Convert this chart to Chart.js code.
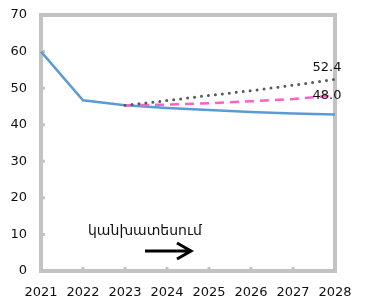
<!DOCTYPE html>
<html><head><meta charset="utf-8">
<script src="https://cdn.jsdelivr.net/npm/chart.js@4/dist/chart.umd.min.js"></script>
<style>html,body{margin:0;padding:0;background:#fff}#wrap{width:372px;height:304px}</style>
</head><body><div id="wrap"><canvas id="c" width="372" height="304"></canvas></div>
<script>
const years = ['2021','2022','2023','2024','2025','2026','2027','2028'];
const baseline = [60.0, 46.7, 45.3, 44.6, 44.0, 43.5, 43.1, 42.8];
const scenarioHigh = [null, null, 45.3, 46.6, 48.0, 49.3, 50.8, 52.4];
const scenarioMid = [null, null, 45.3, 45.5, 45.9, 46.4, 47.0, 48.0];
const endLabels = ['52.4', '48.0'];
const yTicks = [0, 10, 20, 30, 40, 50, 60, 70];
const annotationText = 'կանխատեսում';

const frame = {
  id: 'frame',
  beforeDatasetsDraw(chart) {
    const {ctx, chartArea: a, scales} = chart;
    ctx.save();
    ctx.strokeStyle = '#c3c3c3';
    ctx.lineWidth = 4;
    ctx.strokeRect(a.left, a.top, a.right - a.left, a.bottom - a.top);
    ctx.lineWidth = 3;
    ctx.beginPath();
    yTicks.forEach(v => { const y = scales.y.getPixelForValue(v); ctx.moveTo(a.left, y); ctx.lineTo(a.left + 4, y); });
    years.forEach((_, i) => { const x = scales.x.getPixelForValue(i); ctx.moveTo(x, a.bottom); ctx.lineTo(x, a.bottom - 4); });
    ctx.stroke();
    ctx.restore();
  },
  afterDatasetsDraw(chart) {
    const {ctx, chartArea: a, scales} = chart;
    ctx.save();
    ctx.fillStyle = '#111';
    ctx.font = '13px "DejaVu Sans"';
    ctx.textAlign = 'center';
    ctx.textBaseline = 'middle';
    const last = years.length - 1;
    const xl = scales.x.getPixelForValue(last) - 8;
    ctx.fillText(endLabels[0], xl, scales.y.getPixelForValue(scenarioHigh[last]) - 12);
    ctx.fillText(endLabels[1], xl, scales.y.getPixelForValue(scenarioMid[last]) + 0);
    ctx.textAlign = 'left';
    ctx.font = '14px "DejaVu Sans"';
    ctx.fillText(annotationText, a.left + 47, a.top + 216);
    const x0 = a.left + 104, x1 = a.left + 150, y = a.top + 236;
    ctx.strokeStyle = '#000';
    ctx.lineWidth = 3;
    ctx.lineCap = 'butt';
    ctx.beginPath();
    ctx.moveTo(x0, y); ctx.lineTo(x1 - 1, y);
    ctx.moveTo(x1 - 14, y - 8); ctx.lineTo(x1, y); ctx.lineTo(x1 - 14, y + 8);
    ctx.stroke();
    ctx.restore();
  }
};

new Chart(document.getElementById('c'), {
  type: 'line',
  data: {
    labels: years,
    datasets: [
      {data: scenarioHigh, borderColor: '#595959', borderWidth: 3, borderDash: [0, 7], borderCapStyle: 'round', pointRadius: 0, fill: false, order: 1},
      {data: scenarioMid, borderColor: '#ff5fc8', borderWidth: 2.5, borderDash: [9, 6], pointRadius: 0, fill: false, order: 2},
      {data: baseline, borderColor: '#5b9bd5', borderWidth: 2.5, pointRadius: 0, fill: false, order: 3}
    ]
  },
  options: {
    responsive: false,
    animation: false,
    devicePixelRatio: 1,
    layout: {padding: {left: 0, right: 37, top: 15, bottom: 0}},
    plugins: {legend: {display: false}, tooltip: {enabled: false}},
    scales: {
      x: {
        offset: false,
        grid: {display: false, drawTicks: false},
        border: {display: false},
        ticks: {color: '#111', font: {family: 'DejaVu Sans', size: 13}, padding: 14, maxRotation: 0, autoSkip: false},
        afterFit(s) { s.height = 33; s.paddingLeft = 0; s.paddingRight = 0; }
      },
      y: {
        min: 0, max: 70,
        grid: {display: false, drawTicks: false},
        border: {display: false},
        ticks: {stepSize: 10, color: '#111', font: {family: 'DejaVu Sans', size: 13}, padding: 14},
        afterFit(s) { s.width = 41; s.paddingTop = 0; s.paddingBottom = 0; }
      }
    }
  },
  plugins: [frame]
});
</script></body></html>
